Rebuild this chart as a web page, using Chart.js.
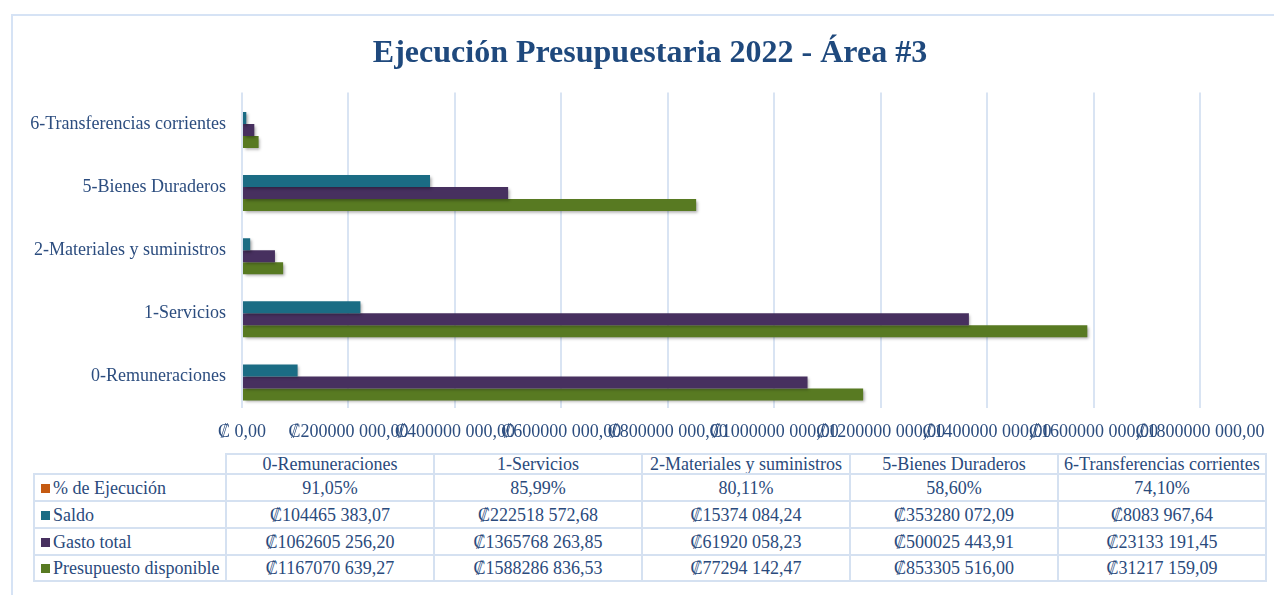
<!DOCTYPE html>
<html>
<head>
<meta charset="utf-8">
<script src="https://cdn.jsdelivr.net/npm/chart.js@4.4.0/dist/chart.umd.min.js"></script>
<style>
  body { margin: 0; width: 1274px; height: 595px; overflow: hidden; background: #fff; font-family: "Liberation Serif", serif; }
  #frame { position: absolute; left: 11px; top: 14px; width: 1300px; height: 620px; border: 2px solid #d6e3f5; }
  #wrap { position: absolute; left: 0; top: 0; width: 1274px; height: 448px; }
  #tbl { position: absolute; left: 33px; top: 453px; border-collapse: collapse; table-layout: fixed; font-family: "Liberation Serif", serif; font-size: 18px; color: #2a4a7c; }
  #tbl td { font-family: "Liberation Serif", serif; font-size: 18px; border: 2px solid #d5e1f1; text-align: center; padding: 0; white-space: nowrap; overflow: hidden; line-height: 1; }
  #tbl td.corner { border-top: none; border-left: none; }
  #tbl td.key { text-align: left; padding-left: 6px; }
  .sw { display: inline-block; width: 9px; height: 9px; margin-right: 3px; vertical-align: 1px; }
</style>
</head>
<body>
<div id="frame"></div>
<div id="wrap"><canvas id="budgetChart"></canvas></div>
<table id="tbl"></table>
<script>
const categories = ["0-Remuneraciones", "1-Servicios", "2-Materiales y suministros", "5-Bienes Duraderos", "6-Transferencias corrientes"];
const ejecucion = [91.05, 85.99, 80.11, 58.60, 74.10];
const saldo = [104465383.07, 222518572.68, 15374084.24, 353280072.09, 8083967.64];
const gastoTotal = [1062605256.20, 1365768263.85, 61920058.23, 500025443.91, 23133191.45];
const presupuesto = [1167070639.27, 1588286836.53, 77294142.47, 853305516.00, 31217159.09];
const xTicks = [0, 200000000, 400000000, 600000000, 800000000, 1000000000, 1200000000, 1400000000, 1600000000, 1800000000];

const colors = {
  orange: "#c55a11",
  teal: "#1b6c84",
  purple: "#47305f",
  green: "#587a22",
  grid: "#d9e4f3",
  text: "#2c4d7f",
  title: "#1f497d"
};

function colones(v) {
  if (v === 0) return "\u20A1 0,00";
  const parts = v.toFixed(2).split(".");
  const i = parts[0];
  const head = i.length > 3 ? i.slice(0, -3) + " " : "";
  return "\u20A1" + head + i.slice(-3) + "," + parts[1];
}

function pct(v) {
  return v.toFixed(2).replace(".", ",") + "%";
}

// series in table order (top row first); the % bars are ~0 px wide on this scale
const series = [
  { label: "% de Ejecución", values: ejecucion, plot: ejecucion.map(v => v / 100), color: colors.orange, barColor: "rgba(0,0,0,0)", fmt: pct },
  { label: "Saldo", values: saldo, plot: saldo, color: colors.teal, barColor: colors.teal, fmt: colones },
  { label: "Gasto total", values: gastoTotal, plot: gastoTotal, color: colors.purple, barColor: colors.purple, fmt: colones },
  { label: "Presupuesto disponible", values: presupuesto, plot: presupuesto, color: colors.green, barColor: colors.green, fmt: colones }
];

// soft shadow under the bars
const barShadow = {
  id: "barShadow",
  beforeDatasetsDraw(chart) {
    const c = chart.ctx;
    c.save();
    c.shadowColor = "rgba(0,0,0,0.35)";
    c.shadowBlur = 3;
    c.shadowOffsetX = 1.5;
    c.shadowOffsetY = 2;
  },
  afterDatasetsDraw(chart) {
    chart.ctx.restore();
  }
};

const ctx = document.getElementById("budgetChart").getContext("2d");
new Chart(ctx, {
  type: "bar",
  data: {
    labels: categories,
    datasets: series.map(s => ({
      label: s.label,
      data: s.plot,
      backgroundColor: s.barColor,
      borderWidth: 0,
      categoryPercentage: 0.76,
      barPercentage: 1
    }))
  },
  options: {
    indexAxis: "y",
    responsive: true,
    maintainAspectRatio: false,
    animation: false,
    layout: { padding: { left: 26, right: 0, top: 0, bottom: 0 } },
    plugins: {
      legend: { display: false },
      tooltip: { enabled: false },
      title: {
        display: true,
        text: "Ejecución Presupuestaria 2022 - Área #3",
        color: colors.title,
        font: { family: "'Liberation Serif', serif", size: 32, weight: "bold" },
        padding: { top: 35, bottom: 19 }
      }
    },
    scales: {
      y: {
        reverse: true,
        grid: { display: false, drawTicks: false },
        border: { display: false },
        ticks: {
          color: colors.text,
          padding: 16,
          font: { family: "'Liberation Serif', serif", size: 18 }
        },
        afterFit(s) { s.width = 216; }
      },
      x: {
        min: 0,
        max: 1800000000,
        grid: { color: colors.grid, lineWidth: 2, drawTicks: false },
        border: { display: false },
        afterBuildTicks(s) { s.ticks = xTicks.map(v => ({ value: v })); },
        ticks: {
          color: colors.text,
          padding: 13,
          autoSkip: false,
          maxRotation: 0,
          minRotation: 0,
          font: { family: "'Liberation Serif', serif", size: 18 },
          callback: v => colones(v)
        },
        afterFit(s) {
          s.height = 40;
          s.paddingLeft = 0;
          s.paddingRight = 74;
        }
      }
    }
  },
  plugins: [barShadow]
});

// data table under the chart
const tbl = document.getElementById("tbl");
const colWidths = [192, 208, 208, 208, 208, 208];
const rowHeights = [20, 27, 27, 27, 26];
const cg = document.createElement("colgroup");
colWidths.forEach(w => {
  const col = document.createElement("col");
  col.style.width = w + "px";
  cg.appendChild(col);
});
tbl.appendChild(cg);

const head = document.createElement("tr");
head.style.height = rowHeights[0] + "px";
const corner = document.createElement("td");
corner.className = "corner";
head.appendChild(corner);
categories.forEach(c => {
  const td = document.createElement("td");
  td.textContent = c;
  head.appendChild(td);
});
tbl.appendChild(head);

series.forEach((s, r) => {
  const tr = document.createElement("tr");
  tr.style.height = rowHeights[r + 1] + "px";
  const key = document.createElement("td");
  key.className = "key";
  const sw = document.createElement("span");
  sw.className = "sw";
  sw.style.background = s.color;
  key.appendChild(sw);
  key.appendChild(document.createTextNode(s.label));
  tr.appendChild(key);
  s.values.forEach(v => {
    const td = document.createElement("td");
    td.textContent = s.fmt(v);
    tr.appendChild(td);
  });
  tbl.appendChild(tr);
});
</script>
</body>
</html>
